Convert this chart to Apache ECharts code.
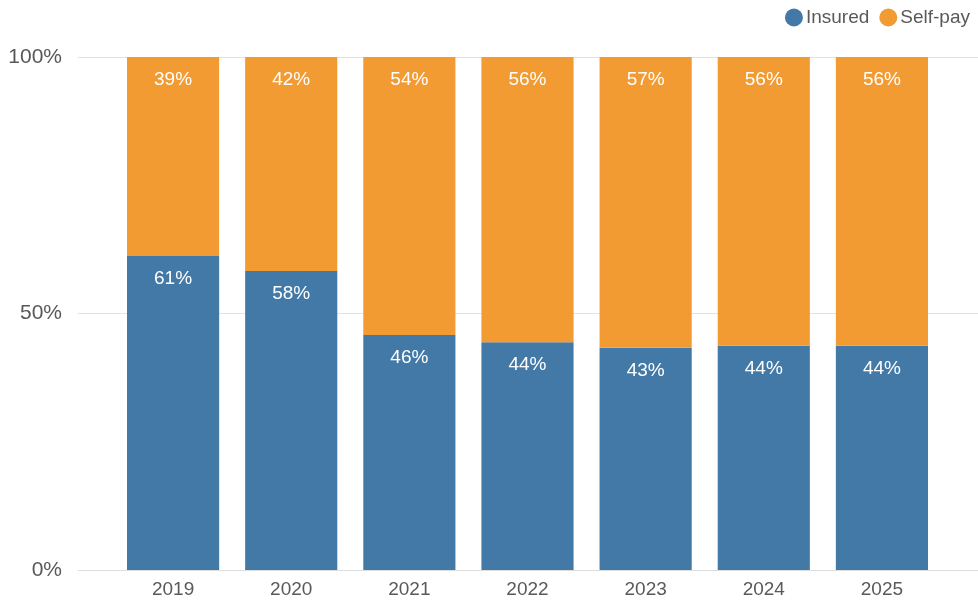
<!DOCTYPE html>
<html>
<head>
<meta charset="utf-8">
<script src="https://cdn.jsdelivr.net/npm/echarts@6/dist/echarts.min.js"></script>
<style>
  html, body { margin: 0; padding: 0; background: #fff; }
  #chart { width: 978px; height: 607px; }
</style>
</head>
<body>
<div id="chart"></div>
<script>
const years = ['2019', '2020', '2021', '2022', '2023', '2024', '2025'];
const insured = [61.2, 58.3, 45.8, 44.4, 43.3, 43.7, 43.7];
const selfPay = [38.8, 41.7, 54.2, 55.6, 56.7, 56.3, 56.3];
const yTicks = [0, 50, 100];

const chart = echarts.init(document.getElementById('chart'));
const font = '"Liberation Sans", Arial, sans-serif';
const barLabel = {
  show: true,
  position: 'insideTop',
  distance: 13,
  color: '#fff',
  fontSize: 19,
  fontFamily: font,
  formatter: p => Math.round(p.value) + '%'
};

chart.setOption({
  textStyle: { fontFamily: font },
  legend: {
    right: 3, top: 3,
    icon: 'circle',
    itemWidth: 18, itemHeight: 18, itemGap: 10,
    textStyle: { fontSize: 19, color: '#595959', fontFamily: font, padding: [0, 0, 0, -2] },
    data: ['Insured', 'Self-pay']
  },
  grid: [
    // bars area
    { left: 114, right: 37, top: 57, bottom: 37 },
    // full-width area for gridlines and y labels
    { left: 78, right: 0, top: 57, bottom: 37 }
  ],
  xAxis: [
    {
      type: 'category', gridIndex: 0,
      data: years,
      axisTick: { show: false },
      axisLine: { show: false },
      axisLabel: { color: '#595959', fontSize: 19, margin: 10, fontFamily: font }
    },
    {
      type: 'category', gridIndex: 1,
      data: [''],
      axisTick: { show: false },
      axisLabel: { show: false },
      axisLine: { lineStyle: { color: '#dddddd' } }
    }
  ],
  yAxis: [
    {
      type: 'value', gridIndex: 0,
      min: 0, max: 100,
      show: false
    },
    {
      type: 'value', gridIndex: 1,
      min: yTicks[0], max: yTicks[yTicks.length - 1], interval: yTicks[1] - yTicks[0],
      axisLabel: { formatter: '{value}%', color: '#595959', fontSize: 21, margin: 16, fontFamily: font },
      splitLine: { lineStyle: { color: '#e3e3e3' } },
      axisLine: { show: false },
      axisTick: { show: false }
    }
  ],
  series: [
    {
      name: 'Insured', type: 'bar', stack: 'total',
      xAxisIndex: 0, yAxisIndex: 0,
      barCategoryGap: '22%',
      itemStyle: { color: '#4379a7' },
      label: barLabel,
      data: insured
    },
    {
      name: 'Self-pay', type: 'bar', stack: 'total',
      xAxisIndex: 0, yAxisIndex: 0,
      itemStyle: { color: '#f29b33' },
      label: barLabel,
      data: selfPay
    }
  ]
});
</script>
</body>
</html>
